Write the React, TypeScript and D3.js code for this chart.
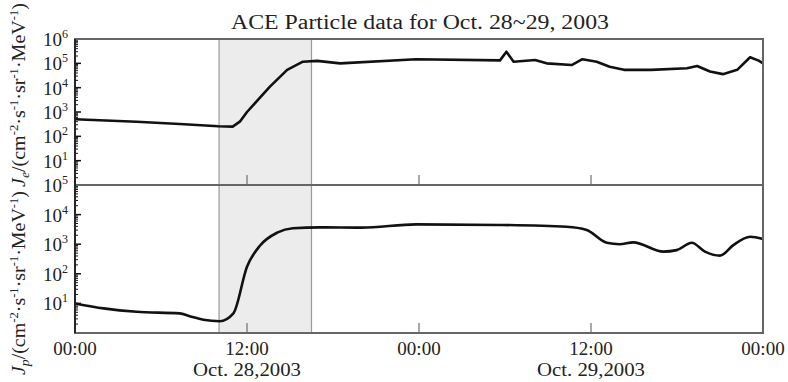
import React from "react";
import * as d3 from "d3";

// Electron flux J_e (hours since Oct. 28 00:00 UT)
const JE_HOURS = [0, 4.3, 7.3, 10.0, 11.0, 11.5, 12.0, 13.6, 14.8, 15.9, 16.9, 18.5, 23.8, 29.65, 30.1, 30.6, 32.1, 32.9, 34.65, 35.4, 36.4, 37.3, 38.3, 40.2, 42.7, 43.4, 44.3, 45.2, 46.2, 47.1, 47.7, 48];
const JE_FLUX = [500, 400, 320, 260, 250, 400, 1000, 11000, 54000, 117000, 126000, 100000, 148000, 132000, 300000, 117000, 138000, 100000, 85000, 148000, 117000, 72000, 54000, 54000, 63000, 78000, 46000, 36000, 54000, 178000, 129000, 100000];

// Proton flux J_p
const JP_HOURS = [0, 2.0, 4.3, 7.3, 8.0, 8.95, 10.1, 11.05, 12.0, 12.9, 14.1, 15.2, 17.1, 20.0, 23.8, 29.65, 34.3, 35.7, 37.1, 38.0, 38.95, 41.05, 41.98, 43.03, 43.95, 45.0, 45.93, 47.1, 48];
const JP_FLUX = [10, 6.8, 5.2, 4.6, 3.7, 2.8, 2.5, 4.6, 174, 890, 2450, 3470, 3700, 3630, 4680, 4470, 3890, 3020, 1120, 1000, 1150, 560, 630, 1120, 560, 410, 930, 1780, 1510];

// Highlighted interval (hours)
const SHADE_START = 10.05;
const SHADE_END = 16.5;

const X_TICKS = [0, 12, 24, 36, 48];
const X_LABELS = ["00:00", "12:00", "00:00", "12:00", "00:00"];
const X_DATES = ["", "Oct. 28,2003", "", "Oct. 29,2003", ""];

const JE_EXPONENTS = [6, 5, 4, 3, 2, 1];
const JP_EXPONENTS = [5, 4, 3, 2, 1];

const TITLE = "ACE  Particle data for Oct. 28~29, 2003";

const W = 788;
const H = 382;
const LEFT = 75;
const RIGHT = 763;
const TOP = 39;
const MID = 185;
const BOTTOM = 333;
const SERIF = "'Liberation Serif', 'DejaVu Serif', serif";

function minorValues(decades: number): number[] {
  const out: number[] = [];
  for (let d = 0; d < decades; d++) {
    for (let m = 2; m <= 9; m++) out.push(m * Math.pow(10, d));
  }
  return out;
}

function Panel({
  y,
  hours,
  flux,
  exponents,
  decades,
  x,
  curve,
}: {
  y: d3.ScaleLogarithmic<number, number>;
  hours: number[];
  flux: number[];
  exponents: number[];
  decades: number;
  x: d3.ScaleLinear<number, number>;
  curve: d3.CurveFactory;
}) {
  const [y0, y1] = y.range();
  const line = d3
    .line<number>()
    .x((_, i) => x(hours[i]))
    .y((v) => y(v))
    .curve(curve);
  const majors = d3.range(0, decades + 1).map((d) => Math.pow(10, d));
  return (
    <g>
      <rect
        x={x(SHADE_START)}
        y={y1}
        width={x(SHADE_END) - x(SHADE_START)}
        height={y0 - y1}
        fill="#ececec"
      />
      <line x1={x(SHADE_START)} x2={x(SHADE_START)} y1={y1} y2={y0} stroke="#9a9a9a" strokeWidth={1.2} />
      <line x1={x(SHADE_END)} x2={x(SHADE_END)} y1={y1} y2={y0} stroke="#9a9a9a" strokeWidth={1.2} />
      {X_TICKS.slice(1, -1).map((t) => (
        <line key={t} x1={x(t)} x2={x(t)} y1={y0} y2={y0 - 10} stroke="#555" strokeWidth={1} />
      ))}
      <path d={line(flux) || ""} fill="none" stroke="#111" strokeWidth={2.6} strokeLinejoin="round" />
      {majors.map((v) => (
        <line key={"M" + v} x1={LEFT} x2={LEFT + 6} y1={y(v)} y2={y(v)} stroke="#111" strokeWidth={1.5} />
      ))}
      {minorValues(decades).map((v) => (
        <line key={"m" + v} x1={LEFT} x2={LEFT + 3} y1={y(v)} y2={y(v)} stroke="#111" strokeWidth={1} />
      ))}
      {exponents.map((e) => (
        <text
          key={e}
          x={68}
          y={y(Math.pow(10, e)) + 7}
          textAnchor="end"
          fontFamily={SERIF}
          fontSize={19}
          fill="#222"
        >
          10
          <tspan fontSize={12} dy={-8}>
            {e}
          </tspan>
        </text>
      ))}
    </g>
  );
}

function AxisTitle({ cx, cy, sub }: { cx: number; cy: number; sub: string }) {
  return (
    <text
      transform={`translate(${cx},${cy}) rotate(-90)`}
      textAnchor="middle"
      fontFamily={SERIF}
      fontSize={19}
      fill="#222"
      textLength={184}
      lengthAdjust="spacingAndGlyphs"
    >
      <tspan fontStyle="italic">J</tspan>
      <tspan fontStyle="italic" fontSize={13} dy={4}>
        {sub}
      </tspan>
      <tspan dy={-4}>/(cm</tspan>
      <tspan fontSize={12} dy={-7}>-2</tspan>
      <tspan dy={7}>·s</tspan>
      <tspan fontSize={12} dy={-7}>-1</tspan>
      <tspan dy={7}>·sr</tspan>
      <tspan fontSize={12} dy={-7}>-1</tspan>
      <tspan dy={7}>·MeV</tspan>
      <tspan fontSize={12} dy={-7}>-1</tspan>
      <tspan dy={7}>)</tspan>
    </text>
  );
}

export default function App() {
  const x = d3.scaleLinear().domain([0, 48]).range([LEFT, RIGHT]);
  const yJe = d3.scaleLog().domain([1, 1e6]).range([MID, TOP]);
  const yJp = d3.scaleLog().domain([1, 1e5]).range([BOTTOM, MID]);

  return (
    <svg
      width={W}
      height={H}
      style={{ position: "absolute", left: 0, top: 0, display: "block", background: "#fff" }}
    >
      <text
        x={420}
        y={29}
        textAnchor="middle"
        fontFamily={SERIF}
        fontSize={20}
        fill="#222"
        textLength={378}
        lengthAdjust="spacingAndGlyphs"
      >
        {TITLE}
      </text>

      <Panel y={yJe} hours={JE_HOURS} flux={JE_FLUX} exponents={JE_EXPONENTS} decades={6} x={x} curve={d3.curveLinear} />
      <Panel y={yJp} hours={JP_HOURS} flux={JP_FLUX} exponents={JP_EXPONENTS} decades={5} x={x} curve={d3.curveMonotoneX} />

      {/* panel frames */}
      <rect x={LEFT} y={TOP} width={RIGHT - LEFT} height={BOTTOM - TOP} fill="none" stroke="#666" strokeWidth={2} />
      <line x1={LEFT} x2={RIGHT} y1={MID} y2={MID} stroke="#666" strokeWidth={2} />
      <line x1={LEFT} x2={LEFT} y1={TOP} y2={BOTTOM} stroke="#111" strokeWidth={1.5} />

      {X_TICKS.map((t, i) => (
        <g key={i}>
          <text x={x(t)} y={355} textAnchor="middle" fontFamily={SERIF} fontSize={19} fill="#222">
            {X_LABELS[i]}
          </text>
          {X_DATES[i] && (
            <text
              x={x(t)}
              y={376}
              textAnchor="middle"
              fontFamily={SERIF}
              fontSize={18}
              fill="#222"
              textLength={108}
              lengthAdjust="spacingAndGlyphs"
            >
              {X_DATES[i]}
            </text>
          )}
        </g>
      ))}

      <AxisTitle cx={25} cy={95} sub="e" />
      <AxisTitle cx={25} cy={283} sub="p" />
    </svg>
  );
}
